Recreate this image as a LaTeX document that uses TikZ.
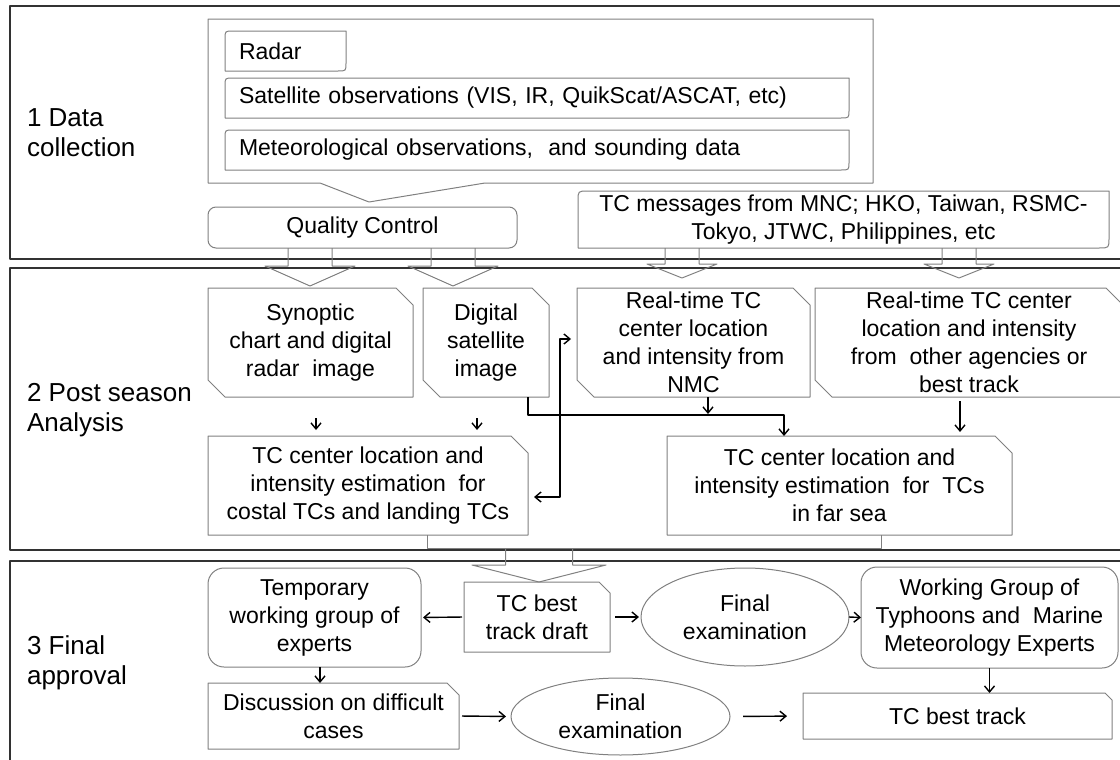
\documentclass[tikz,border=0pt]{standalone}
\usepackage{fontspec}
\setmainfont{Liberation Sans}
\usetikzlibrary{arrows.meta,shapes.geometric}
\definecolor{boxgray}{RGB}{128,128,128}
\definecolor{framegray}{RGB}{50,50,50}
\newcommand{\snipdiag}[2]{\draw[boxline] (#1.north west) -- ([xshift=-#2]#1.north east) -- ([yshift=-#2]#1.north east) -- (#1.south east) -- ([xshift=#2]#1.south west) -- ([yshift=#2]#1.south west) -- cycle;}
\newcommand{\snipone}[2]{\draw[boxline] (#1.north west) -- ([xshift=-#2]#1.north east) -- ([yshift=-#2]#1.north east) -- (#1.south east) -- (#1.south west) -- cycle;}
\newcommand{\rounddiag}[2]{\draw[boxline] ([yshift=-#2]#1.north west) .. controls (#1.north west) .. ([xshift=#2]#1.north west) -- (#1.north east) -- ([yshift=#2]#1.south east) .. controls (#1.south east) .. ([xshift=-#2]#1.south east) -- (#1.south west) -- cycle;}
\newcommand{\hollowdown}[6]{\draw[boxline] (#1-#4,#2) -- (#1-#4,#3-#6) -- (#1-#5,#3-#6) -- (#1,#3) -- (#1+#5,#3-#6) -- (#1+#4,#3-#6) -- (#1+#4,#2);}
\begin{document}
\begin{tikzpicture}[x=0.5pt,y=-0.5pt,line join=round,>={Straight Barb[length=3pt,width=5pt]},
	font=\fontsize{11.5}{14}\selectfont,
	frame/.style={draw=framegray,line width=1pt},
	boxline/.style={draw=boxgray,line width=0.5pt},
	txt/.style={inner sep=0pt,outer sep=0pt,align=center},
	lbox/.style={txt,inner xsep=7pt,align=left},
	rbox/.style={txt,boxline,rounded corners=8pt},
	ebox/.style={txt,boxline,ellipse},
	seclabel/.style={anchor=west,align=left,font=\fontsize{13}{15}\selectfont},
	arr/.style={line width=0.7pt,->}]
	\useasboundingbox (0,0) rectangle (1120,760);
	\draw[frame] (10,6) rectangle (1140,259);
	\draw[frame] (10,268) rectangle (1140,550);
	\draw[frame] (10,561) rectangle (1140,780);
	\node[seclabel] (s1) at (20,133) {1 Data\\collection};
	\node[seclabel] (s2) at (20,410) {2 Post season\\Analysis};
	\node[seclabel] (s3) at (20,663) {3 Final\\approval};
	
	\draw[boxline] (320,183) -- (208,183) -- (208,19) -- (873,19) -- (873,183) -- (485,183) -- (369,202) -- cycle;
	\node[lbox,minimum height=20pt,text width=46.5pt] (radar) at (285.5,51) {Radar};
	\node[lbox,minimum height=20pt,text width=298pt] (sat) at (537,98) {Satellite observations (VIS, IR, QuikScat/ASCAT, etc)};
	\node[lbox,minimum height=20pt,text width=298pt] (met) at (537,150) {Meteorological observations,\ \ and sounding data};
	\rounddiag{radar}{4pt}
	\rounddiag{sat}{4pt}
	\rounddiag{met}{4pt}
	\node[rbox,rounded corners=4pt,minimum width=154.5pt,minimum height=20.5pt] (qc) at (362.5,227.5) {Quality Control};
	\node[txt,minimum width=265.5pt,minimum height=28.5pt] (msg) at (843.5,219.5) {TC messages from MNC; HKO, Taiwan, RSMC-\\Tokyo, JTWC, Philippines, etc};
	\rounddiag{msg}{5pt}
	
	\hollowdown{310}{248}{286}{22}{45}{20}
	\hollowdown{453}{248}{286}{22}{45}{20}
	\hollowdown{682}{248}{278}{17}{35}{14}
	\hollowdown{959}{248}{278}{17}{35}{14}
	
	\node[txt,minimum width=102.5pt,minimum height=54.5pt] (syn) at (310.5,342.5) {Synoptic\\chart and digital\\radar\ \ image};
	\node[txt,minimum width=63pt,minimum height=54.5pt] (dig) at (486,342.5) {Digital\\satellite\\image};
	\node[txt,minimum width=116.5pt,minimum height=54.5pt] (nmc) at (693.5,342.5) {Real-time TC\\center location\\and intensity from\\NMC};
	\node[txt,minimum width=154pt,minimum height=54.5pt] (oth) at (969,342.5) {Real-time TC center\\location and intensity\\from\ \ other agencies or\\best track};
	\node[txt,minimum width=160pt,minimum height=49.5pt] (coastal) at (368,485.5) {TC center location and\\intensity estimation\ \ for\\costal TCs and landing TCs};
	\node[txt,minimum width=172.5pt,minimum height=49.5pt] (farsea) at (839.5,485.5) {TC center location and\\intensity estimation\ \ for\ \ TCs\\in far sea};
	\snipdiag{syn}{8.5pt}
	\snipdiag{dig}{8.5pt}
	\snipdiag{nmc}{8.5pt}
	\snipdiag{oth}{8.5pt}
	\snipone{coastal}{8.5pt}
	\snipone{farsea}{8.5pt}
	
	\draw[arr,shorten <=10.5pt,shorten >=3pt] ([xshift=2.75pt]syn.south) -- ([xshift=2.75pt]syn.south |- coastal.north);
	\draw[arr,shorten <=10.5pt,shorten >=3pt] ([xshift=-4.5pt]dig.south) -- ([xshift=-4.5pt]dig.south |- coastal.north);
	\draw[arr] ([xshift=-10.5pt]dig.south east) -- ++(0,18) -| ([xshift=-27.75pt]farsea.north);
	\draw[arr] ([xshift=7.25pt]nmc.south) -- ++(0,17);
	\draw[arr,shorten <=2pt,shorten >=2pt] ([xshift=-4.5pt]oth.south) -- ([xshift=-4.5pt]oth.south |- farsea.north);
	\draw[arr,<->,shorten <=3pt,shorten >=3pt] ([yshift=-5.75pt]coastal.east) -- ++(32,0) |- ([yshift=1.75pt]nmc.west);
	\draw[boxline] (427,0 |- coastal.south) -- (427,548) -- (881,548) -- (881,0 |- farsea.south);
	
	\node[rbox,minimum width=106.5pt,minimum height=49.5pt] (temp) at (314.5,617.5) {Temporary\\working group of\\experts};
	\node[txt,minimum width=73pt,minimum height=35pt] (draft) at (537,617) {TC best\\track draft};
	\node[ebox,minimum width=104pt,minimum height=49pt] (fin1) at (745,617) {Final\\examination};
	\node[rbox,minimum width=128.5pt,minimum height=50.5pt] (wg) at (989.5,617.5) {Working Group of\\Typhoons and\ \ Marine\\Meteorology Experts};
	\node[txt,minimum width=125.5pt,minimum height=33pt] (disc) at (333.5,716) {Discussion on difficult\\cases};
	\node[ebox,minimum width=109.5pt,minimum height=38.5pt] (fin2) at (620.5,716.5) {Final\\examination};
	\node[txt,minimum width=154.5pt,minimum height=23pt] (best) at (957.5,716) {TC best track};
	\snipone{draft}{5.5pt}
	\snipone{disc}{6pt}
	\snipone{best}{3.5pt}
	\hollowdown{539}{548}{582}{33.5}{67}{17}
	
	\draw[arr,shorten <=1pt,shorten >=1pt] (draft.west) -- (temp.east);
	\draw[arr,shorten <=2.5pt,shorten >=1pt] (draft.east) -- (fin1.west);
	\draw[arr] (fin1.east) -- (wg.west);
	\draw[arr] ([xshift=2.75pt]temp.south) -- ([xshift=2.75pt]temp.south |- disc.north);
	\draw[arr,shorten <=1.5pt,shorten >=2.5pt] (disc.east) -- (fin2.west);
	\draw[arr,shorten <=6.5pt,shorten >=8pt] (fin2.east) -- (best.west);
	\draw[arr] (wg.south) -- (wg.south |- best.north);
\end{tikzpicture}
\end{document}
